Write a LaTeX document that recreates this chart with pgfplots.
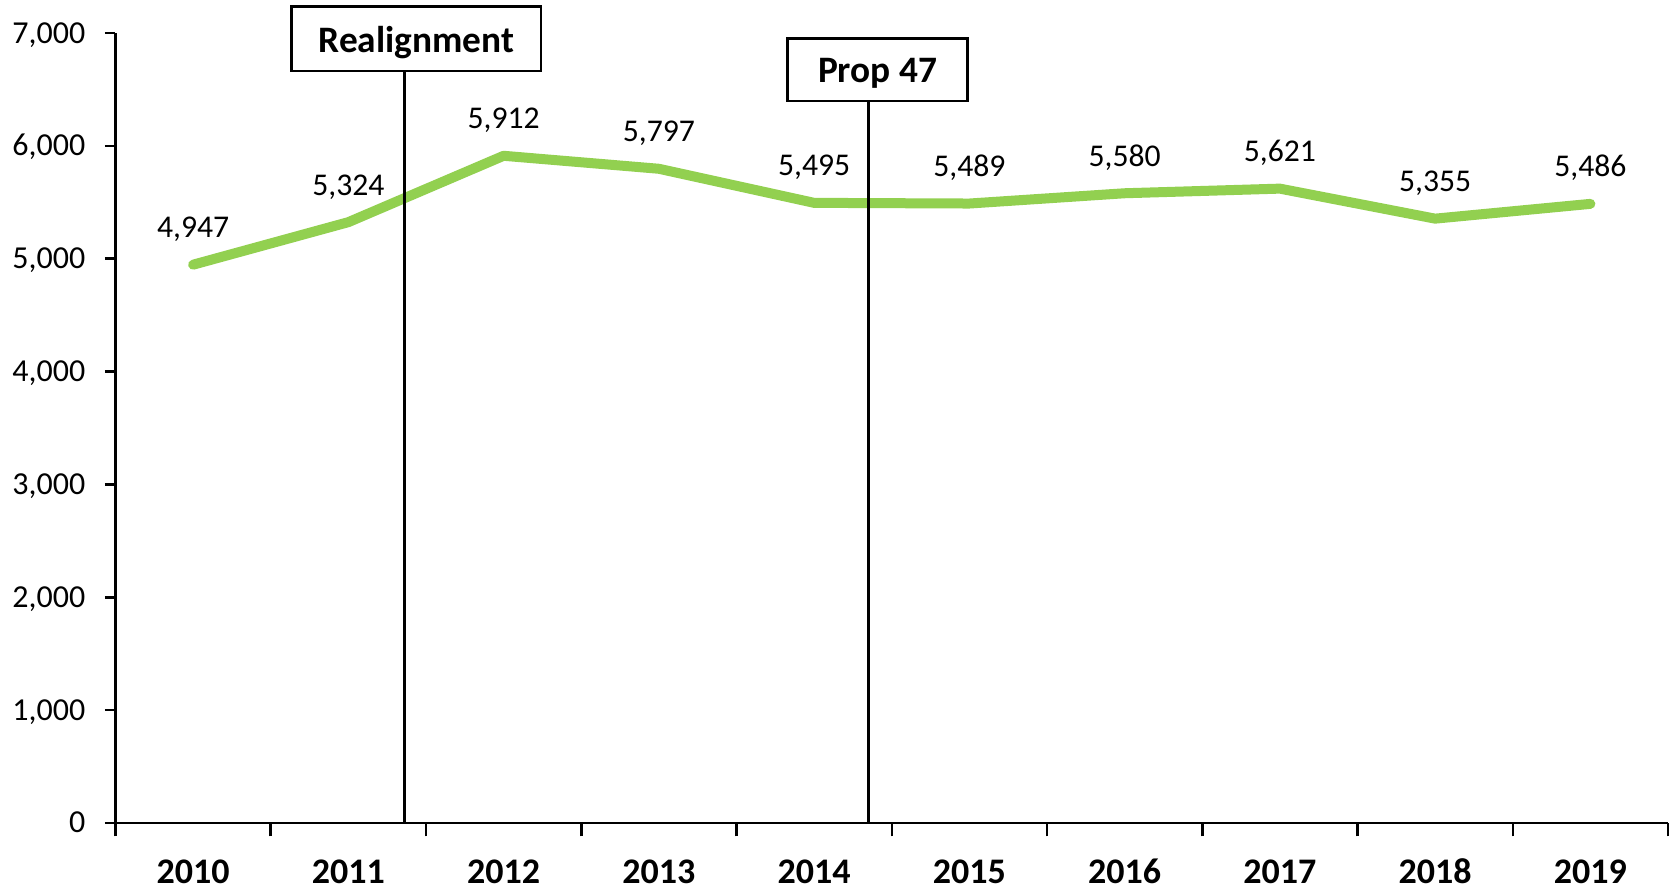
\documentclass[border=0pt]{standalone}
\usepackage{fontspec}
\setmainfont{Carlito}
\usepackage{pgfplots}
\pgfplotsset{compat=1.18}
\definecolor{lgreen}{HTML}{92D050}
\pgfplotsset{/pgf/number format/.cd, 1000 sep={,}, assume math mode=true}
\begin{document}
\begin{tikzpicture}
\begin{axis}[
  scale only axis, width=465.75pt, height=237pt,
  xmin=-0.5, xmax=9.5, ymin=0, ymax=7000,
  axis x line*=bottom, axis y line*=left,
  axis line style={line width=0.75pt, black},
  xtick={0,...,9},
  xticklabels={2010,2011,2012,2013,2014,2015,2016,2017,2018,2019},
  minor xtick={-0.5,0.5,...,9.5},
  ytick={0,1000,...,7000},
  tick align=outside,
  major tick length=3.2pt,
  minor tick length=4pt,
  major x tick style={draw=none},
  tick style={line width=0.75pt, black},
  x tick label style={font=\fontsize{10.8}{12}\selectfont\bfseries, anchor=base, inner sep=0pt, yshift=-14.9pt},
  y tick label style={font=\fontsize{9.6}{11}\selectfont, anchor=base east, inner sep=0pt, xshift=-5.65pt, yshift=-3pt},
  clip=false,
  nodes near coords,
  every node near coord/.append style={font=\fontsize{9.5}{11}\selectfont, anchor=base, inner sep=0pt, yshift=8.1pt, black},
]
\addplot[color=lgreen, line width=3pt, line cap=round, line join=round, mark=none] coordinates {
  (0,4947) (1,5324) (2,5912) (3,5797) (4,5495) (5,5489) (6,5580) (7,5621) (8,5355) (9,5486)
};
\draw[line width=0.8pt] (axis cs:1.36,0) -- (axis cs:1.36,6663);
\draw[line width=0.8pt] (axis cs:4.349,0) -- (axis cs:4.349,6397);
\node[draw, line width=0.8pt, fill=white, minimum width=74.8pt, minimum height=19.3pt, inner sep=0pt] at (axis cs:1.438,6948) {};
\node[inner sep=0pt, yshift=-1.1pt, font=\fontsize{11.2}{12}\selectfont\bfseries] at (axis cs:1.438,6948) {Realignment};
\node[draw, line width=0.8pt, fill=white, minimum width=54pt, minimum height=18.8pt, inner sep=0pt] at (axis cs:4.409,6675) {};
\node[inner sep=0pt, yshift=-1.1pt, font=\fontsize{11.2}{12}\selectfont\bfseries] at (axis cs:4.409,6675) {Prop 47};
\end{axis}
\pgfresetboundingbox
\path ([shift={(-34.65pt,-19.8pt)}]current axis.south west) rectangle ([shift={(2.1pt,9.9pt)}]current axis.north east);
\end{tikzpicture}
\end{document}
